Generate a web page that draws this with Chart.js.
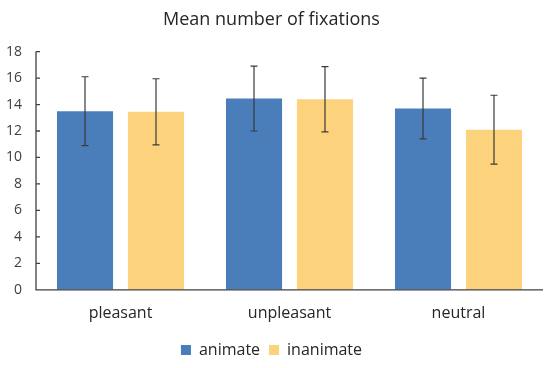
<!DOCTYPE html>
<html><head><meta charset="utf-8">
<script src="https://cdn.jsdelivr.net/npm/chart.js@4/dist/chart.umd.min.js"></script>
<style>html,body{margin:0;padding:0;background:#fff;}#wrap{width:550px;height:368px;}</style>
</head><body><div id="wrap"><canvas id="c" width="550" height="368"></canvas></div>
<script>
const categories = ["pleasant", "unpleasant", "neutral"];
const animate = [13.5, 14.45, 13.7];
const inanimate = [13.45, 14.4, 12.1];
const animateErr = [2.6, 2.45, 2.3];
const inanimateErr = [2.5, 2.47, 2.6];
const yTicks = [0, 2, 4, 6, 8, 10, 12, 14, 16, 18];

const FONT = "'Open Sans', 'Liberation Sans', sans-serif";

const errorBars = {
  id: 'errorBars',
  afterDatasetsDraw(chart) {
    const ctx = chart.ctx, y = chart.scales.y;
    const errs = [animateErr, inanimateErr];
    chart.data.datasets.forEach((ds, di) => {
      const meta = chart.getDatasetMeta(di);
      meta.data.forEach((bar, i) => {
        const v = ds.data[i], e = errs[di][i];
        const yt = y.getPixelForValue(v + e), yb = y.getPixelForValue(v - e);
        const x = bar.x;
        ctx.save();
        ctx.strokeStyle = '#3a3a3a';
        ctx.lineWidth = 1.2;
        ctx.beginPath();
        ctx.moveTo(x, yt); ctx.lineTo(x, yb);
        ctx.moveTo(x - 3.5, yt); ctx.lineTo(x + 3.5, yt);
        ctx.moveTo(x - 3.5, yb); ctx.lineTo(x + 3.5, yb);
        ctx.stroke();
        ctx.restore();
      });
    });
    const a = chart.chartArea;
    ctx.save();
    ctx.strokeStyle = '#404040';
    ctx.lineWidth = 1.3;
    ctx.beginPath();
    ctx.moveTo(a.left, a.top); ctx.lineTo(a.left, a.bottom);
    ctx.lineTo(a.right, a.bottom);
    y.ticks.forEach(t => {
      const py = y.getPixelForValue(t.value);
      ctx.moveTo(a.left, py); ctx.lineTo(a.left + 4, py);
    });
    ctx.stroke();
    ctx.restore();
  }
};

new Chart(document.getElementById('c'), {
  type: 'bar',
  data: {
    labels: categories,
    datasets: [
      { label: 'animate', data: animate, backgroundColor: '#4A7EBB', categoryPercentage: 0.84, barPercentage: 0.79 },
      { label: 'inanimate', data: inanimate, backgroundColor: '#FDD27C', categoryPercentage: 0.84, barPercentage: 0.79 }
    ]
  },
  options: {
    responsive: false,
    animation: false,
    devicePixelRatio: 1,
    layout: { padding: { left: 0, right: 7, top: 0, bottom: 0 } },
    plugins: {
      title: {
        display: true, text: 'Mean number of fixations', color: '#262626',
        font: { family: FONT, size: 18, weight: 'normal' },
        padding: { top: 9, bottom: 21 }
      },
      legend: {
        position: 'bottom',
        labels: {
          boxWidth: 10, boxHeight: 10, color: '#262626', padding: 9,
          font: { family: FONT, size: 16 }
        }
      },
      tooltip: { enabled: false }
    },
    scales: {
      x: {
        afterFit(s) { s.height = s.height - 4; },
        grid: { display: false, drawTicks: false },
        border: { display: false },
        ticks: { color: '#262626', font: { family: FONT, size: 16 }, padding: 14 }
      },
      y: {
        min: 0, max: 18,
        afterBuildTicks(s) { s.ticks = yTicks.map(v => ({ value: v })); },
        afterFit(s) { s.width = 36; },
        grid: { display: false, drawTicks: false },
        border: { display: false },
        ticks: { color: '#404040', font: { family: FONT, size: 14 }, padding: 14 }
      }
    }
  },
  plugins: [errorBars]
});
</script></body></html>
